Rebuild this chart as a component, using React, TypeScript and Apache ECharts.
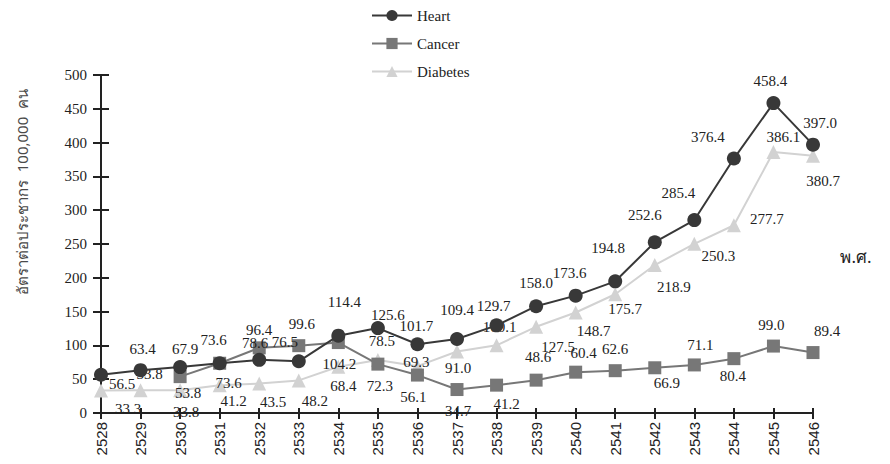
import React, { useEffect, useRef } from "react";
import * as echarts from "echarts";

const years = ["2528","2529","2530","2531","2532","2533","2534","2535","2536","2537","2538","2539","2540","2541","2542","2543","2544","2545","2546"];
const heart = [56.5,63.4,67.9,73.6,78.6,76.5,114.4,125.6,101.7,109.4,129.7,158.0,173.6,194.8,252.6,285.4,376.4,458.4,397.0];
const cancer = [null,null,53.8,73.6,96.4,99.6,104.2,72.3,56.1,34.7,41.2,48.6,60.4,62.6,66.9,71.1,80.4,99.0,89.4];
const diabetes = [33.3,33.8,33.8,41.2,43.5,48.2,68.4,78.5,69.3,91.0,100.1,127.5,148.7,175.7,218.9,250.3,277.7,386.1,380.7];
const yTitle = "อัตราต่อประชากร  100,000  คน";
const xUnit = "พ.ศ.";

// label offsets (style only)
const heartOff = [[21,9],[2,-21],[5,-18],[-6,-23],[-4,-17],[-14,-19],[6,-34],[10,-13],[-1,-18],[0,-29],[-3,-19],[0,-23],[-6,-23],[-7,-33],[-10,-27],[-16,-27],[-26,-22],[-3,-22],[7,-22]];
const cancerOff = [null,null,[8,16],[9,20],[0,-18],[3,-22],[1,21],[2,22],[-4,22],[1,21],[10,19],[2,-23],[8,-19],[0,-22],[12,15],[6,-20],[-1,17],[-2,-21],[14,-22]];
const diabetesOff = [[27,19],[9,-16],[6,22],[14,16],[14,18],[16,21],[5,19],[4,-19],[-1,-4],[1,17],[3,-18],[22,20],[18,19],[10,15],[19,22],[24,12],[33,-6],[10,-15],[10,25]];

const SERIF = "Liberation Serif, Times New Roman, DejaVu Serif, serif";
const SANS = "Liberation Sans, Arial, sans-serif";
const THAI = "Noto Sans, DejaVu Sans, sans-serif";

function build(values: (number | null)[], offs: (number[] | null)[]) {
  return values.map((v, i) => {
    if (v === null) return null;
    return {
      value: v,
      label: { show: true, position: "inside", offset: offs[i] || [0, 0] },
    };
  });
}

export default function App() {
  const ref = useRef<HTMLDivElement>(null);
  useEffect(() => {
    document.body.style.margin = "0";
    if (!ref.current) return;
    const chart = echarts.init(ref.current, null, { renderer: "svg" });
    const labelStyle = {
      color: "#222",
      fontFamily: SERIF,
      fontSize: 15,
      formatter: (p: any) => Number(p.value).toFixed(1),
    };
    chart.setOption({
      animation: false,
      backgroundColor: "#fff",
      legend: {
        orient: "vertical",
        left: 366,
        top: 3,
        itemWidth: 40,
        itemHeight: 14,
        itemGap: 13,
        textStyle: { fontFamily: SERIF, fontSize: 15, color: "#222" },
        data: ["Heart", "Cancer", "Diabetes"],
      },
      grid: { left: 101, right: 77, top: 75, bottom: 51 },
      xAxis: [
        {
          type: "category",
          data: years,
          boundaryGap: false,
          axisLine: { lineStyle: { color: "#222", width: 2 } },
          axisTick: { show: true, length: 6, lineStyle: { color: "#222", width: 2 } },
          axisLabel: { rotate: 90, fontFamily: SANS, fontSize: 15, color: "#222", margin: 9 },
        },
        {
          type: "category",
          data: years,
          boundaryGap: false,
          position: "bottom",
          axisLine: { show: false },
          axisTick: { show: true, inside: true, length: 5, lineStyle: { color: "#222", width: 2 } },
          axisLabel: { show: false },
        },
      ],
      yAxis: [
        {
          type: "value",
          min: 0,
          max: 500,
          interval: 50,
          axisLine: { show: true, lineStyle: { color: "#222", width: 2 } },
          axisTick: { show: true, length: 8, lineStyle: { color: "#222", width: 2 } },
          axisLabel: { fontFamily: SERIF, fontSize: 15, color: "#222", margin: 14 },
          splitLine: { show: false },
        },
        {
          type: "value",
          min: 0,
          max: 500,
          interval: 50,
          position: "left",
          axisLine: { show: false },
          axisTick: { show: true, inside: true, length: 8, lineStyle: { color: "#222", width: 2 } },
          axisLabel: { show: false },
          splitLine: { show: false },
        },
      ],
      graphic: [
        {
          type: "text",
          x: 22,
          y: 192,
          rotation: Math.PI / 2,
          style: {
            text: yTitle,
            fontSize: 15,
            fill: "#4a4a4a",
            fontFamily: THAI,
            align: "center",
            verticalAlign: "middle",
          },
        },
        {
          type: "text",
          x: 856,
          y: 256,
          style: {
            text: xUnit,
            fontSize: 17,
            fill: "#222",
            fontFamily: THAI,
            align: "center",
            verticalAlign: "middle",
          },
        },
      ],
      series: [
        {
          name: "Diabetes",
          type: "line",
          data: build(diabetes, diabetesOff),
          symbol: "triangle",
          symbolSize: 14,
          itemStyle: { color: "#d2d2d2" },
          lineStyle: { color: "#d2d2d2", width: 2 },
          label: labelStyle,
          z: 2,
        },
        {
          name: "Cancer",
          type: "line",
          data: build(cancer, cancerOff),
          symbol: "rect",
          symbolSize: 13,
          itemStyle: { color: "#777777" },
          lineStyle: { color: "#777777", width: 2 },
          label: labelStyle,
          z: 3,
        },
        {
          name: "Heart",
          type: "line",
          data: build(heart, heartOff),
          symbol: "circle",
          symbolSize: 14,
          itemStyle: { color: "#383838" },
          lineStyle: { color: "#383838", width: 2 },
          label: labelStyle,
          z: 4,
        },
      ],
    });
    return () => chart.dispose();
  }, []);
  return <div ref={ref} style={{ width: 890, height: 464 }} />;
}
